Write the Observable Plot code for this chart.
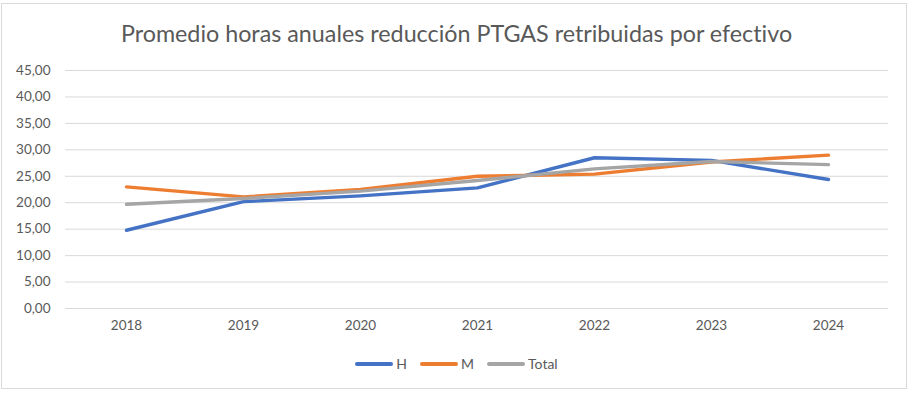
<!DOCTYPE html>
<html>
<head>
<meta charset="utf-8">
<script src="https://cdn.jsdelivr.net/npm/d3@7"></script>
<script src="https://cdn.jsdelivr.net/npm/@observablehq/plot@0.6"></script>
<style>
  html, body { margin: 0; padding: 0; background: #fff; }
  body { width: 913px; height: 393px; position: relative; overflow: hidden; font-family: Lato, "Open Sans", sans-serif; font-variant-ligatures: none; }
  #frame { position: absolute; left: 1px; top: 3px; width: 906px; height: 386px; border: 1px solid #d9d9d9; box-sizing: border-box; }
  #title { position: absolute; left: 0; width: 913px; top: 17px; text-align: center; font-size: 23.3px; color: #595959; line-height: 32px; }
  #chart { position: absolute; left: 0; top: 55px; }
  #legend { position: absolute; left: 0; width: 913px; top: 355px; display: flex; justify-content: center; gap: 13px; font-size: 14px; color: #595959; line-height: 18px; }
  .item { display: flex; align-items: center; gap: 3px; }
  .sw { width: 38px; height: 4px; border-radius: 2px; }
  svg text { font-variant-ligatures: none; }
</style>
</head>
<body>
<div id="frame"></div>
<div id="title">Promedio horas anuales reducción PTGAS retribuidas por efectivo</div>
<div id="chart"></div>
<div id="legend"></div>
<script>
const years = ["2018", "2019", "2020", "2021", "2022", "2023", "2024"];
const seriesNames = ["H", "M", "Total"];
const valuesH = [14.8, 20.2, 21.3, 22.8, 28.5, 28.0, 24.4];
const valuesM = [23.0, 21.1, 22.5, 25.0, 25.4, 27.7, 29.0];
const valuesTotal = [19.7, 20.8, 22.2, 24.2, 26.4, 27.8, 27.2];
const colors = ["#4472C4", "#ED7D31", "#A5A5A5"];
const yTicks = [0, 5, 10, 15, 20, 25, 30, 35, 40, 45];

const seriesValues = [valuesH, valuesM, valuesTotal];
const data = seriesNames.flatMap((s, i) => years.map((y, j) => ({series: s, year: y, value: seriesValues[i][j]})));
const fmt = d => d.toFixed(2).replace(".", ",");

const plot = Plot.plot({
  width: 913,
  height: 283,
  marginLeft: 65,
  marginRight: 25,
  marginTop: 15,
  marginBottom: 30,
  style: {fontFamily: "Lato, 'Open Sans', sans-serif", fontSize: "13.5px", color: "#595959", background: "transparent"},
  x: {type: "point", domain: years, padding: 0.5, label: null},
  y: {domain: [0, 45], ticks: yTicks, label: null},
  color: {domain: seriesNames, range: colors},
  marks: [
    Plot.gridY(yTicks, {stroke: "#d9d9d9", strokeOpacity: 1, strokeWidth: 1}),
    Plot.axisY(yTicks, {tickSize: 0, tickPadding: 15, tickFormat: fmt, fill: "#595959", fontSize: 13.5}),
    Plot.axisX({tickSize: 0, tickPadding: 12, fill: "#595959", fontSize: 13.5}),
    Plot.line(data, {x: "year", y: "value", z: "series", stroke: "series", strokeWidth: 3.4, strokeLinecap: "round", strokeLinejoin: "round"})
  ]
});
document.getElementById("chart").appendChild(plot);

const legend = document.getElementById("legend");
seriesNames.forEach((s, i) => {
  const item = document.createElement("div");
  item.className = "item";
  const sw = document.createElement("div");
  sw.className = "sw";
  sw.style.background = colors[i];
  const t = document.createElement("span");
  t.textContent = s;
  item.appendChild(sw);
  item.appendChild(t);
  legend.appendChild(item);
});
</script>
</body>
</html>
